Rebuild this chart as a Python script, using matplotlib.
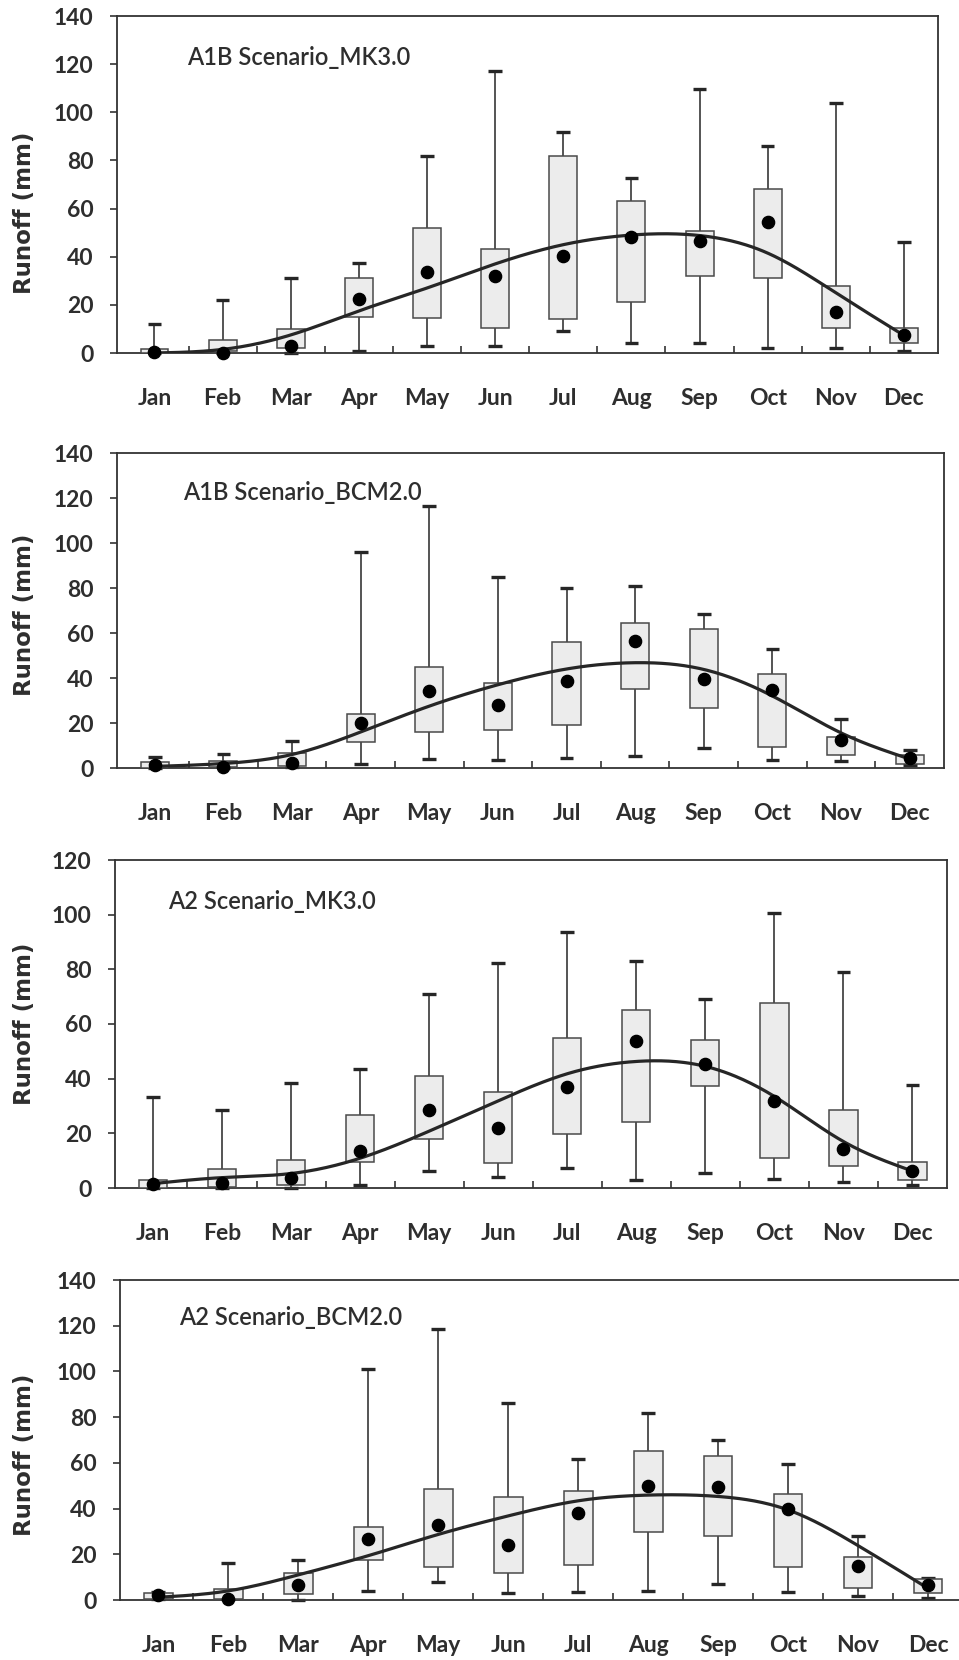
import numpy as np
import matplotlib
matplotlib.use("Agg")
import matplotlib.pyplot as plt

months = ["Jan", "Feb", "Mar", "Apr", "May", "Jun",
          "Jul", "Aug", "Sep", "Oct", "Nov", "Dec"]

# ---- A1B Scenario, MK3.0 ----
a1b_mk3_low = [0, 0, 0, 1, 3, 3, 9, 4, 4, 2, 2, 1]
a1b_mk3_q1 = [0, 1, 2, 15, 14.5, 10.5, 14, 21, 32, 31, 10.5, 4]
a1b_mk3_q3 = [1.5, 5.5, 10, 31, 52, 43, 82, 63, 50.5, 68, 28, 10.5]
a1b_mk3_high = [12, 22, 31, 37.5, 82, 117, 92, 72.5, 109.5, 86, 104, 46]
a1b_mk3_mean = [0.3, 0, 3, 22.5, 33.5, 32, 40.5, 48, 46.5, 54.3, 17, 7.3]
a1b_mk3_trend = [0, 1.5, 7.5, 17.5, 27, 37, 45, 49, 48.8, 41.5, 25, 7.3]

# ---- A1B Scenario, BCM2.0 ----
a1b_bcm2_low = [0, 0, 0.5, 2, 4, 3.7, 4.5, 5.2, 9, 3.7, 3, 1.5]
a1b_bcm2_q1 = [0, 0.5, 1, 11.5, 16, 17, 19, 35.2, 26.5, 9.4, 6, 1.8]
a1b_bcm2_q3 = [2.7, 3.3, 6.7, 24, 45, 37.6, 56, 64.3, 61.7, 42, 14, 6]
a1b_bcm2_high = [5, 6.4, 12, 96, 116.5, 84.7, 80, 80.7, 68.6, 53, 21.8, 8.2]
a1b_bcm2_mean = [1.2, 0.5, 2.2, 19.8, 34.2, 28, 38.6, 56.5, 39.4, 34.6, 12.6, 4.5]
a1b_bcm2_trend = [0.7, 2, 6, 16, 27.5, 37, 44, 46.8, 43.8, 32, 15.6, 4]

# ---- A2 Scenario, MK3.0 ----
a2_mk3_low = [0, 0, 0, 1.2, 6.2, 4, 7.2, 2.8, 5.6, 3.2, 2.2, 1]
a2_mk3_q1 = [0, 0.5, 1, 9.4, 18, 9, 19.8, 24, 37.2, 10.9, 8, 2.8]
a2_mk3_q3 = [3, 7, 10.3, 26.8, 41, 35.2, 55, 65, 54, 67.5, 28.5, 9.6]
a2_mk3_high = [33.4, 28.5, 38.4, 43.4, 71, 82.2, 93.7, 83.2, 69.2, 100.5, 78.9, 37.7]
a2_mk3_mean = [1.6, 2, 3.5, 13.6, 28.6, 22, 36.8, 53.9, 45.2, 32, 14.3, 6.3]
a2_mk3_trend = [1.6, 3.8, 5.3, 10.9, 20.8, 31.9, 41.8, 46.3, 44.5, 33.5, 17, 6.2]

# ---- A2 Scenario, BCM2.0 ----
a2_bcm2_low = [0.5, 0.5, 0, 4.1, 7.9, 2.9, 3.7, 4, 6.9, 3.5, 1.8, 0.7]
a2_bcm2_q1 = [0.5, 0.5, 2.6, 17.6, 14.4, 11.8, 15.4, 29.7, 28.2, 14.3, 5.4, 3.2]
a2_bcm2_q3 = [3, 5, 11.8, 32, 48.5, 44.9, 47.8, 65, 63.2, 46.3, 18.7, 9.1]
a2_bcm2_high = [3.7, 16.2, 17.4, 101, 118.7, 86.3, 61.8, 81.6, 70.1, 59.3, 28.2, 9.6]
a2_bcm2_mean = [2, 0.5, 6.6, 26.8, 32.8, 24, 38.2, 50, 49.6, 39.7, 15, 6.6]
a2_bcm2_trend = [1.2, 4, 11, 19.4, 28.7, 36.8, 43.4, 45.9, 45.3, 39.4, 23.8, 5.1]

titles = ["A1B Scenario_MK3.0", "A1B Scenario_BCM2.0",
          "A2 Scenario_MK3.0", "A2 Scenario_BCM2.0"]
y_max = [140, 140, 120, 140]

panels = [
    (a1b_mk3_low, a1b_mk3_q1, a1b_mk3_q3, a1b_mk3_high, a1b_mk3_mean, a1b_mk3_trend),
    (a1b_bcm2_low, a1b_bcm2_q1, a1b_bcm2_q3, a1b_bcm2_high, a1b_bcm2_mean, a1b_bcm2_trend),
    (a2_mk3_low, a2_mk3_q1, a2_mk3_q3, a2_mk3_high, a2_mk3_mean, a2_mk3_trend),
    (a2_bcm2_low, a2_bcm2_q1, a2_bcm2_q3, a2_bcm2_high, a2_bcm2_mean, a2_bcm2_trend),
]

W, H = 959, 1660
# axes frames in pixels: left, right, top, bottom
frames = [(117, 938, 16, 353), (117, 944, 453, 768),
          (115, 947, 860, 1188), (120, 963, 1280, 1600)]
title_pos = [(0.085, 0.878), (0.08, 0.876), (0.064, 0.872), (0.07, 0.884)]
ylabel_y = [0.415, 0.486, 0.5, 0.453]


def smooth_curve(x, y, xs):
    """Natural cubic spline through (x, y), evaluated at xs."""
    x = np.asarray(x, float)
    y = np.asarray(y, float)
    n = len(x)
    h = np.diff(x)
    A = np.zeros((n, n))
    r = np.zeros(n)
    A[0, 0] = A[-1, -1] = 1
    for i in range(1, n - 1):
        A[i, i - 1] = h[i - 1]
        A[i, i] = 2 * (h[i - 1] + h[i])
        A[i, i + 1] = h[i]
        r[i] = 3 * ((y[i + 1] - y[i]) / h[i] - (y[i] - y[i - 1]) / h[i - 1])
    c = np.linalg.solve(A, r)
    b = (y[1:] - y[:-1]) / h - h * (2 * c[:-1] + c[1:]) / 3
    d = (c[1:] - c[:-1]) / (3 * h)
    idx = np.clip(np.searchsorted(x, xs) - 1, 0, n - 2)
    dx = xs - x[idx]
    return y[idx] + b[idx] * dx + c[idx] * dx ** 2 + d[idx] * dx ** 3


fig = plt.figure(figsize=(W / 100, H / 100), dpi=100)
fig.patch.set_facecolor("white")

x = np.arange(1, 13)
dark = "#262626"
text_col = "#2e2e2e"

for k, (low, q1, q3, high, mean, trend) in enumerate(panels):
    l, r, t, b = frames[k]
    ax = fig.add_axes([l / W, 1 - b / H, (r - l) / W, (b - t) / H])
    ax.set_xlim(0.45, 12.5)
    ax.set_ylim(0, y_max[k])

    low = np.array(low); high = np.array(high)
    q1 = np.array(q1); q3 = np.array(q3)

    # whiskers and caps
    ax.vlines(x, low, high, color=dark, lw=1.1, zorder=2)
    ax.hlines(high, x - 0.1, x + 0.1, color=dark, lw=2.4, zorder=2)
    ax.hlines(low, x - 0.1, x + 0.1, color=dark, lw=2.4, zorder=2, clip_on=False)

    # interquartile boxes
    ax.bar(x, q3 - q1, bottom=q1, width=0.41, color="#ececec",
           edgecolor="#4a4a4a", linewidth=1.1, zorder=3)

    # smooth trend curve
    xs = np.linspace(1, 12, 400)
    ax.plot(xs, smooth_curve(x, trend, xs), color=dark, lw=2.3, zorder=4,
            solid_capstyle="round")

    # monthly means
    ax.plot(x, mean, "o", color="black", ms=8.8, zorder=5, clip_on=False)

    for s in ax.spines.values():
        s.set_color("#333333")
        s.set_linewidth(1.3)

    ax.set_yticks(np.arange(0, y_max[k] + 1, 20))
    ax.tick_params(axis="y", direction="out", length=5, width=1.2,
                   color="#333333", pad=12, labelsize=16.5, labelcolor=text_col)
    for lab in ax.get_yticklabels():
        lab.set_fontfamily("Lato")
        lab.set_fontweight("bold")

    # boundary ticks between months, month names at the centres
    ax.set_xticks(np.arange(1.5, 12, 1))
    ax.set_xticklabels([])
    ax.tick_params(axis="x", which="major", direction="in", length=5,
                   width=1.2, color="#333333")
    ax.set_xticks(x, minor=True)
    ax.set_xticklabels(months, minor=True, fontfamily="Lato",
                       fontweight="bold", fontsize=16.5, color=text_col)
    ax.tick_params(axis="x", which="minor", length=0, pad=25)

    ax.text(title_pos[k][0], title_pos[k][1], titles[k], transform=ax.transAxes,
            ha="left", va="center", fontsize=17, family="Lato",
            fontweight="semibold", color=text_col)

    ax.set_ylabel("Runoff (mm)", fontsize=16.5, fontweight="bold",
                  family="DejaVu Sans", color=text_col)
    ax.yaxis.set_label_coords((36 - l) / (r - l), ylabel_y[k])

fig.savefig("out.png", dpi=100, facecolor="white")
